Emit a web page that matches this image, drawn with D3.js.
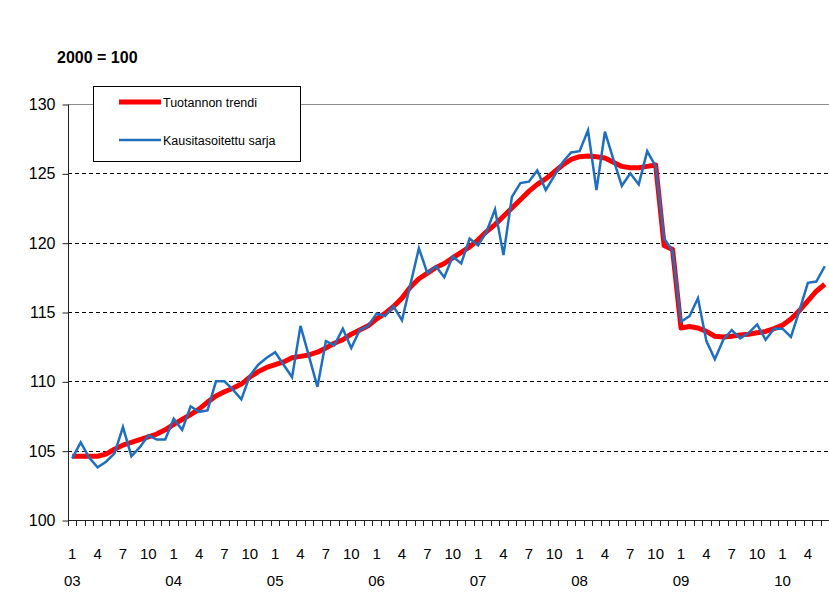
<!DOCTYPE html>
<html>
<head>
<meta charset="utf-8">
<script src="https://cdn.jsdelivr.net/npm/d3@7"></script>
<style>
  body { margin: 0; background: #fff; }
  svg { display: block; font-family: "Liberation Sans", Arial, sans-serif; }
</style>
</head>
<body>
<script>
// years shown on the axis, 2003-01 .. 2010-06
const years = ["03", "04", "05", "06", "07", "08", "09", "10"];
const monthLabels = [1, 4, 7, 10];

// Tuotannon trendi (red)
const trend = [
  104.6, 104.6, 104.6, 104.6, 104.75, 105.1, 105.4, 105.6, 105.8, 106.0, 106.2, 106.5,
  106.9, 107.25, 107.6, 108.0, 108.5, 108.95, 109.25, 109.5, 109.8, 110.3, 110.7, 111.0,
  111.2, 111.4, 111.7, 111.8, 111.9, 112.1, 112.4, 112.75, 113.0, 113.4, 113.7, 114.0,
  114.5, 114.9, 115.4, 116.0, 116.8, 117.4, 117.8, 118.2, 118.5, 118.9, 119.3, 119.7,
  120.2, 120.8, 121.3, 121.9, 122.5, 123.1, 123.7, 124.2, 124.6, 125.1, 125.6, 126.0,
  126.2, 126.25, 126.2, 126.1, 125.8, 125.5, 125.4, 125.4, 125.5, 125.6, 119.8, 119.5,
  113.85, 113.95, 113.85, 113.6, 113.25, 113.2, 113.25, 113.35, 113.4, 113.5, 113.6, 113.8,
  114.05, 114.5, 115.1, 115.8, 116.5, 117.0
];

// Kausitasoitettu sarja (blue)
const seasonal = [
  104.45, 105.6, 104.5, 103.8, 104.2, 104.8, 106.7, 104.6, 105.25, 106.1, 105.8, 105.8,
  107.3, 106.5, 108.2, 107.8, 107.9, 110.0, 110.0, 109.4, 108.7, 110.4, 111.2, 111.7,
  112.1, 111.2, 110.3, 114.0, 111.8, 109.6, 112.9, 112.6, 113.8, 112.4, 113.7, 114.0,
  114.9, 114.7, 115.4, 114.4, 117.0, 119.6, 117.8, 118.3, 117.5, 119.0, 118.5, 120.3,
  119.8, 120.8, 122.4, 119.1, 123.3, 124.3, 124.4, 125.2, 123.8, 124.8, 125.8, 126.5,
  126.6, 128.1, 123.8, 128.0, 126.0, 124.1, 125.0, 124.2, 126.6, 125.5, 120.3, 119.4,
  114.3, 114.7, 116.0, 112.9, 111.6, 113.0, 113.7, 113.1, 113.5, 114.1, 113.0, 113.8,
  113.8, 113.2, 115.1, 117.1, 117.2, 118.3
];

const yTicks = [100, 105, 110, 115, 120, 125, 130];

const categories = [];
years.forEach(y => {
  for (let m = 1; m <= 12; m++) categories.push({year: y, month: m, key: y + "-" + m});
});
const cats = categories.slice(0, trend.length);

const width = 829, height = 596;
const plot = {left: 68, right: 829, top: 104, bottom: 520};

const svg = d3.select("body").append("svg")
  .attr("width", width)
  .attr("height", height);

const x = d3.scaleBand()
  .domain(cats.map(d => d.key))
  .range([plot.left, plot.right])
  .padding(0);

const y = d3.scaleLinear()
  .domain([100, 130])
  .range([plot.bottom, plot.top]);

const cx = i => x(cats[i].key) + x.bandwidth() / 2;

// title
svg.append("text")
  .attr("x", 57)
  .attr("y", 63)
  .attr("font-size", 16)
  .attr("font-weight", "bold")
  .text("2000 = 100");

// gridlines
svg.append("g")
  .selectAll("line")
  .data(yTicks.filter(t => t > 100 && t < 130))
  .join("line")
  .attr("x1", plot.left)
  .attr("x2", plot.right)
  .attr("y1", d => Math.round(y(d)) + 0.5)
  .attr("y2", d => Math.round(y(d)) + 0.5)
  .attr("stroke", "#000")
  .attr("stroke-width", 1)
  .attr("stroke-dasharray", "4,3");

svg.append("line")
  .attr("x1", plot.left).attr("x2", plot.right)
  .attr("y1", y(130) + 0.5).attr("y2", y(130) + 0.5)
  .attr("stroke", "#8c8c8c")
  .attr("stroke-width", 1);

// y axis
const yAxis = svg.append("g")
  .attr("transform", `translate(${plot.left + 0.5},0.5)`)
  .call(d3.axisLeft(y).tickValues(yTicks).tickSize(6).tickPadding(7).tickFormat(d3.format("d")));
yAxis.select(".domain").attr("stroke", "#222").attr("d", `M0,${y(130)}V${y(100)}`);
yAxis.selectAll("text").attr("font-size", 16).attr("font-family", "Liberation Sans, Arial, sans-serif").attr("fill", "#000");
yAxis.selectAll(".tick line").attr("stroke", "#222");

// x axis line and boundary ticks
svg.append("line")
  .attr("x1", plot.left).attr("x2", plot.right)
  .attr("y1", plot.bottom + 0.5).attr("y2", plot.bottom + 0.5)
  .attr("stroke", "#222");

svg.append("g")
  .selectAll("line")
  .data(cats)
  .join("line")
  .attr("x1", d => Math.round(x(d.key)) + 0.5)
  .attr("x2", d => Math.round(x(d.key)) + 0.5)
  .attr("y1", plot.bottom)
  .attr("y2", plot.bottom + 6)
  .attr("stroke", "#222");

// month labels
svg.append("g")
  .selectAll("text")
  .data(cats.filter(d => monthLabels.includes(d.month)))
  .join("text")
  .attr("x", d => x(d.key) + x.bandwidth() / 2)
  .attr("y", 559)
  .attr("text-anchor", "middle")
  .attr("font-size", 15)
  .text(d => d.month);

// year labels
svg.append("g")
  .selectAll("text")
  .data(cats.filter(d => d.month === 1))
  .join("text")
  .attr("x", d => x(d.key) + x.bandwidth() / 2)
  .attr("y", 586)
  .attr("text-anchor", "middle")
  .attr("font-size", 15)
  .text(d => d.year);

// series
const line = d3.line()
  .x((d, i) => cx(i))
  .y(d => y(d));

svg.append("path")
  .datum(trend)
  .attr("fill", "none")
  .attr("stroke", "#ff0000")
  .attr("stroke-width", 5)
  .attr("stroke-linejoin", "round")
  .attr("d", line);

svg.append("path")
  .datum(seasonal)
  .attr("fill", "none")
  .attr("stroke", "#1f6fc0")
  .attr("stroke-width", 2.5)
  .attr("stroke-linejoin", "miter")
  .attr("d", line);

// legend
const legend = svg.append("g");
legend.append("rect")
  .attr("x", 93.5).attr("y", 86.5)
  .attr("width", 207).attr("height", 75)
  .attr("fill", "#fff")
  .attr("stroke", "#000");

const legendItems = [
  {label: "Tuotannon trendi", color: "#ff0000", w: 5, y: 102},
  {label: "Kausitasoitettu sarja", color: "#1f6fc0", w: 2.5, y: 140}
];
legendItems.forEach(d => {
  legend.append("line")
    .attr("x1", 119).attr("x2", 161)
    .attr("y1", d.y).attr("y2", d.y)
    .attr("stroke", d.color)
    .attr("stroke-width", d.w);
  legend.append("text")
    .attr("x", 163)
    .attr("y", d.y + 5)
    .attr("font-size", 12.5)
    .text(d.label);
});
</script>
</body>
</html>
